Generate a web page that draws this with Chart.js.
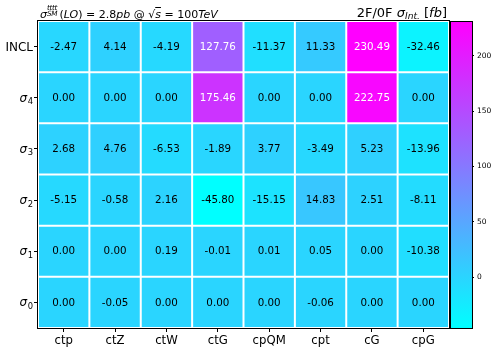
<!DOCTYPE html>
<html><head><meta charset="utf-8">
<script src="https://cdn.jsdelivr.net/npm/chart.js@4"></script>
<style>
html,body{margin:0;padding:0;background:#fff;}
#wrap{position:relative;width:498px;height:352px;font-family:"DejaVu Sans",sans-serif;overflow:hidden;}
#main{position:absolute;left:0;top:0;}
#cbar{position:absolute;left:440px;top:0;}
.t{position:absolute;white-space:nowrap;color:#000;line-height:1;}
i{font-style:italic;}
.ss{display:inline-block;position:relative;width:12.5px;height:1em;}
.ss .sup{position:absolute;left:0;top:-0.36em;font-size:0.66em;letter-spacing:-0.3px;}
.ss .sub{position:absolute;left:0;top:0.52em;font-size:0.66em;letter-spacing:-0.3px;}
.sb{font-size:0.7em;position:relative;top:0.3em;}
</style></head><body>
<div id="wrap">
<canvas id="main" width="498" height="352"></canvas>
<canvas id="cbar" width="58" height="352"></canvas>
<div class="t" id="tl" style="left:40px;top:6.7px;font-size:11px;"><i>σ</i><span class="ss"><span class="sup"><i>tttt</i></span><span class="sub"><i>SM</i></span></span>(<i>LO</i>) = 2.8<i>pb</i> @ √<span style="text-decoration:overline"><i>s</i></span> = 100<i>TeV</i></div>
<div class="t" id="tr" style="right:51px;top:5.5px;font-size:13px;">2F/0F <i>σ</i><span class="sb"><i>Int.</i></span> [<i>fb</i>]</div>
</div>
<script>
// ---- data ----
const columns = ['ctp', 'ctZ', 'ctW', 'ctG', 'cpQM', 'cpt', 'cG', 'cpG'];
const rowNames = ['INCL', 'σ4', 'σ3', 'σ2', 'σ1', 'σ0']; // top to bottom
const rowINCL   = [-2.47, 4.14, -4.19, 127.76, -11.37, 11.33, 230.49, -32.46];
const rowSigma4 = [0.00, 0.00, 0.00, 175.46, 0.00, 0.00, 222.75, 0.00];
const rowSigma3 = [2.68, 4.76, -6.53, -1.89, 3.77, -3.49, 5.23, -13.96];
const rowSigma2 = [-5.15, -0.58, 2.16, -45.80, -15.15, 14.83, 2.51, -8.11];
const rowSigma1 = [0.00, 0.00, 0.19, -0.01, 0.01, 0.05, 0.00, -10.38];
const rowSigma0 = [0.00, -0.05, 0.00, 0.00, 0.00, -0.06, 0.00, 0.00];
const colorbarTicks = [0, 50, 100, 150, 200];

const rowValues = [rowINCL, rowSigma4, rowSigma3, rowSigma2, rowSigma1, rowSigma0];
const allVals = rowValues.flat();
const vmin = Math.min(...allVals), vmax = Math.max(...allVals);
const thresh = vmin + (vmax - vmin) / 2;

function cool(v) {
  const t = (v - vmin) / (vmax - vmin);
  return `rgb(${Math.round(255 * t)},${Math.round(255 * (1 - t))},255)`;
}

const FONT = 'DejaVu Sans';

// datasets stacked bottom-up: sigma0 first
const datasets = rowValues.map((vals, r) => ({
  label: rowNames[r],
  data: columns.map(() => 1),
  cellValues: vals,
  backgroundColor: vals.map(cool),
  borderColor: '#ffffff',
  borderWidth: 1,
  borderSkipped: false,
  inflateAmount: 0,
  barPercentage: 1,
  categoryPercentage: 1
})).reverse();

const framePlugin = {
  id: 'frame',
  afterDraw(chart) {
    const a = chart.chartArea, ctx = chart.ctx;
    ctx.save();
    ctx.strokeStyle = '#000';
    ctx.lineWidth = 1;
    ctx.strokeRect(Math.round(a.left) - 0.5, Math.round(a.top) - 0.5,
      Math.round(a.right) - Math.round(a.left) + 1, Math.round(a.bottom) - Math.round(a.top) + 1);
    ctx.restore();
  }
};

const cellTextPlugin = {
  id: 'cellText',
  afterDatasetsDraw(chart) {
    const ctx = chart.ctx;
    ctx.save();
    ctx.font = `10.3px "${FONT}"`;
    ctx.textAlign = 'center';
    ctx.textBaseline = 'middle';
    chart.data.datasets.forEach((ds, d) => {
      const meta = chart.getDatasetMeta(d);
      meta.data.forEach((el, i) => {
        const v = ds.cellValues[i];
        ctx.fillStyle = v > thresh ? '#ffffff' : '#000000';
        ctx.fillText(v.toFixed(2), el.x, (el.y + el.base) / 2 + 0.5);
      });
    });
    ctx.restore();
  }
};

const yLabelPlugin = {
  id: 'yLabels',
  afterDraw(chart) {
    const ctx = chart.ctx, ys = chart.scales.y;
    const right = chart.chartArea.left - 5;
    ctx.save();
    ctx.fillStyle = '#000';
    ctx.textBaseline = 'alphabetic';
    ctx.textAlign = 'left';
    const n = rowNames.length;
    rowNames.forEach((name, r) => {
      const y = ys.getPixelForValue(n - 1 - r + 0.5);
      if (name.startsWith('σ')) {
        const sub = name.slice(1);
        ctx.font = `italic 12px "${FONT}"`;
        const w1 = ctx.measureText('σ').width;
        ctx.font = `8.4px "${FONT}"`;
        const w2 = ctx.measureText(sub).width;
        const x0 = right - w1 - w2 - 0.5;
        ctx.font = `italic 12px "${FONT}"`;
        ctx.fillText('σ', x0, y + 4);
        ctx.font = `8.4px "${FONT}"`;
        ctx.fillText(sub, x0 + w1 + 0.5, y + 6.5);
      } else {
        ctx.font = `12px "${FONT}"`;
        const w = ctx.measureText(name).width;
        ctx.fillText(name, right - w, y + 4.3);
      }
    });
    ctx.restore();
  }
};

new Chart(document.getElementById('main'), {
  type: 'bar',
  data: { labels: columns, datasets },
  options: {
    responsive: false,
    animation: false,
    devicePixelRatio: 1,
    layout: { padding: { top: 21, right: 49, left: 0, bottom: 0 } },
    plugins: { legend: { display: false }, tooltip: { enabled: false } },
    scales: {
      x: {
        stacked: true,
        grid: { display: true, drawOnChartArea: false, drawTicks: true, tickLength: 4, color: '#000', offset: false },
        border: { display: false },
        ticks: { color: '#000', font: { family: FONT, size: 11.7 }, padding: 2, maxRotation: 0, autoSkip: false },
        afterFit(s) { s.height = 24; }
      },
      y: {
        stacked: true,
        min: 0, max: 6,
        afterBuildTicks(s) { s.ticks = rowNames.map((_, i) => ({ value: i + 0.5 })); },
        grid: { display: true, drawOnChartArea: false, drawTicks: true, tickLength: 4, color: '#000' },
        border: { display: false },
        ticks: { display: false },
        afterFit(s) { s.width = 38; }
      }
    }
  },
  plugins: [framePlugin, cellTextPlugin, yLabelPlugin]
});

new Chart(document.getElementById('cbar'), {
  type: 'bar',
  data: {
    labels: [''],
    datasets: [{
      data: [[vmin, vmax]],
      backgroundColor(c) {
        const chart = c.chart;
        if (!chart.chartArea) return 'rgb(0,255,255)';
        const ys = chart.scales.y;
        const g = chart.ctx.createLinearGradient(0, ys.getPixelForValue(vmin), 0, ys.getPixelForValue(vmax));
        g.addColorStop(0, 'rgb(0,255,255)');
        g.addColorStop(1, 'rgb(255,0,255)');
        return g;
      },
      borderWidth: 0,
      inflateAmount: 0,
      barPercentage: 1,
      categoryPercentage: 1
    }]
  },
  options: {
    responsive: false,
    animation: false,
    devicePixelRatio: 1,
    layout: { padding: { left: 11, top: 22, bottom: 24, right: 0 } },
    plugins: { legend: { display: false }, tooltip: { enabled: false } },
    scales: {
      x: { display: false },
      y: {
        position: 'right',
        min: vmin, max: vmax,
        afterBuildTicks(s) { s.ticks = colorbarTicks.map(v => ({ value: v })); },
        grid: { display: true, drawOnChartArea: false, drawTicks: true, tickLength: 2, color: '#000' },
        border: { display: false },
        ticks: { color: '#000', font: { family: FONT, size: 7.5 }, padding: 3 },
        afterFit(s) { s.width = 26; }
      }
    }
  },
  plugins: [framePlugin]
});
</script>
</body></html>
